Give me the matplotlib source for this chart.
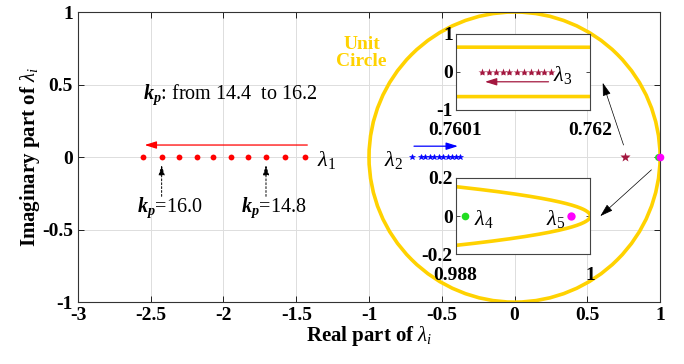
import numpy as np
import matplotlib
matplotlib.use("Agg")
from matplotlib import pyplot as plt
from matplotlib.patches import Circle

plt.rcParams['font.family'] = ['Liberation Serif', 'DejaVu Serif']
plt.rcParams['mathtext.fontset'] = 'custom'
plt.rcParams['mathtext.rm'] = 'Liberation Serif'
plt.rcParams['mathtext.it'] = 'Liberation Serif:italic'
plt.rcParams['mathtext.bf'] = 'Liberation Serif:bold'
plt.rcParams['mathtext.bfit'] = 'Liberation Serif:bold:italic'

# eigenvalue traces
lam1_re = [-2.551, -2.425, -2.306, -2.184, -2.070, -1.948, -1.829, -1.708, -1.577, -1.440]
lam2_re = [-0.707, -0.645, -0.615, -0.581, -0.551, -0.519, -0.489, -0.459, -0.432, -0.402, -0.375]
lam3_re = [0.76047, 0.76057, 0.76067, 0.76077, 0.76086, 0.76096, 0.76106, 0.76116, 0.76126, 0.76135, 0.76145]
lam4_re = [0.98883]
lam5_re = [0.99831]
kp_marks = [(-2.425, "16.0"), (-1.708, "14.8")]

gold = '#FFD200'
brown = '#A3173F'

fig = plt.figure(figsize=(6.84, 3.64), dpi=100)
ax = fig.add_axes([0.114, 0.170, 0.851, 0.797])

ax.add_patch(Circle((0, 0), 1, fill=False, ec=gold, lw=2.6, zorder=2))

ax.plot(lam1_re, np.zeros(len(lam1_re)), 'o', color='red', ms=4.2, mec='none', zorder=3)
ax.plot(lam2_re, np.zeros(len(lam2_re)), '*', color='blue', ms=4.3, mec='blue', mew=0.4, zorder=3)
ax.plot(lam3_re[:1], [0], '*', color=brown, ms=7, mec='none', zorder=3)
ax.plot(lam4_re, [0], 'o', color='#22DD22', ms=5, mec='none', zorder=3, clip_on=False)
ax.plot(lam5_re, [0], 'o', color='magenta', ms=5.5, mec='none', zorder=4, clip_on=False)

ax.set_xlim(-3, 1)
ax.set_ylim(-1, 1)
ax.set_xticks([-3, -2.5, -2, -1.5, -1, -0.5, 0, 0.5, 1])
ax.set_xticklabels(['-3', '-2.5', '-2', '-1.5', '-1', '-0.5', '0', '0.5', '1'])
ax.set_yticks([-1, -0.5, 0, 0.5, 1])
ax.set_yticklabels(['-1', '-0.5', '0', '0.5', '1'])
ax.tick_params(direction='in', top=True, right=True, length=4, width=0.6, labelsize=14)
for lab in ax.get_xticklabels() + ax.get_yticklabels():
    lab.set_fontweight('bold')
ax.grid(True, color='#DDDDDD', lw=0.7)
ax.set_axisbelow(True)
for s in ax.spines.values():
    s.set_color('#333333')
    s.set_linewidth(0.8)
ax.set_xlabel(r'Real part of $\lambda_i$', fontsize=15, fontweight='bold', labelpad=0)
ax.set_ylabel(r'Imaginary part of $\lambda_i$', fontsize=15, fontweight='bold', labelpad=0)

# direction arrows
ax.annotate('', xy=(lam1_re[0] - 0.01, 0.083), xytext=(lam1_re[-1] + 0.035, 0.083),
            arrowprops=dict(arrowstyle='-|>,head_length=0.7,head_width=0.22', color='red', lw=0.9))
ax.annotate('', xy=(lam2_re[-1] + 0.005, 0.075), xytext=(lam2_re[0] - 0.003, 0.075),
            arrowprops=dict(arrowstyle='-|>,head_length=0.7,head_width=0.22', color='blue', lw=0.9))
ax.text(lam1_re[-1] + 0.08, -0.02, r'$\lambda_1$', fontsize=16, va='center')
ax.text(lam2_re[0] - 0.06, -0.02, r'$\lambda_2$', fontsize=16, va='center', ha='right')
ax.text(-2.55, 0.43, r'$\mathbfit{k}_\mathbfit{p}$: from 14.4  to 16.2', fontsize=14.5, va='center')

for xk, val in kp_marks:
    ax.annotate('', xy=(xk, -0.035), xytext=(xk, -0.29),
                arrowprops=dict(arrowstyle='-|>,head_length=0.6,head_width=0.18',
                                color='black', lw=0.7, ls=(0, (2, 2))))
    ax.text(xk - 0.17, -0.35, r'$\mathbfit{k}_\mathbfit{p}$=' + val, fontsize=14.5, va='center')

ax.text(-1.05, 0.72, 'Unit\nCircle', color=gold, fontsize=14, fontweight='bold',
        ha='center', va='center', linespacing=1.0)

# arrows from the main plot to the insets
ax.annotate('', xy=(0.60, 0.53), xytext=(0.755, 0.065),
            arrowprops=dict(arrowstyle='-|>,head_length=0.8,head_width=0.25', color='black', lw=0.5))
ax.annotate('', xy=(0.575, -0.42), xytext=(0.955, -0.075),
            arrowprops=dict(arrowstyle='-|>,head_length=0.8,head_width=0.25', color='black', lw=0.5))


def style_inset(a):
    a.tick_params(direction='in', top=True, right=True, length=3, width=0.5, labelsize=14, pad=2)
    a.tick_params(axis='x', pad=9)
    for lab in a.get_xticklabels() + a.get_yticklabels():
        lab.set_fontweight('bold')
    for s in a.spines.values():
        s.set_color('#444444')
        s.set_linewidth(0.8)


# top inset: lambda_3
ax1 = fig.add_axes([0.666, 0.698, 0.197, 0.209])
xs = np.linspace(0.7601, 0.762, 50)
ax1.plot(xs, np.sqrt(1 - xs ** 2), color=gold, lw=2.6)
ax1.plot(xs, -np.sqrt(1 - xs ** 2), color=gold, lw=2.6)
ax1.plot(lam3_re, np.zeros(len(lam3_re)), '*', color=brown, ms=6, mec='none')
ax1.annotate('', xy=(lam3_re[0] + 0.000005, -0.26), xytext=(lam3_re[-1], -0.26),
             arrowprops=dict(arrowstyle='-|>,head_length=0.7,head_width=0.22', color=brown, lw=0.9))
ax1.text(lam3_re[-1] + 0.00003, -0.08, r'$\lambda_3$', fontsize=16, va='center')
ax1.set_xlim(0.7601, 0.762)
ax1.set_ylim(-1, 1)
ax1.set_xticks([0.7601, 0.762])
ax1.set_xticklabels(['0.7601', '0.762'])
ax1.set_yticks([-1, 0, 1])
ax1.set_yticklabels(['-1', '0', '1'])
style_inset(ax1)

# bottom inset: lambda_4, lambda_5
ax2 = fig.add_axes([0.666, 0.302, 0.197, 0.209])
ys = np.linspace(-0.2, 0.2, 200)
ax2.plot(np.sqrt(1 - ys ** 2), ys, color=gold, lw=2.6)
ax2.plot(lam4_re, [0], 'o', color='#22DD22', ms=5.5, mec='none')
ax2.plot(lam5_re, [0], 'o', color='magenta', ms=6, mec='none')
ax2.text(lam4_re[0] + 0.0008, -0.015, r'$\lambda_4$', fontsize=16, va='center')
ax2.text(lam5_re[0] - 0.0005, -0.015, r'$\lambda_5$', fontsize=16, va='center', ha='right')
ax2.set_xlim(0.988, 1)
ax2.set_ylim(-0.2, 0.2)
ax2.set_xticks([0.988, 1])
ax2.set_xticklabels(['0.988', '1'])
ax2.set_yticks([-0.2, 0, 0.2])
ax2.set_yticklabels(['-0.2', '0', '0.2'])
style_inset(ax2)

fig.savefig('out.png', dpi=100)
